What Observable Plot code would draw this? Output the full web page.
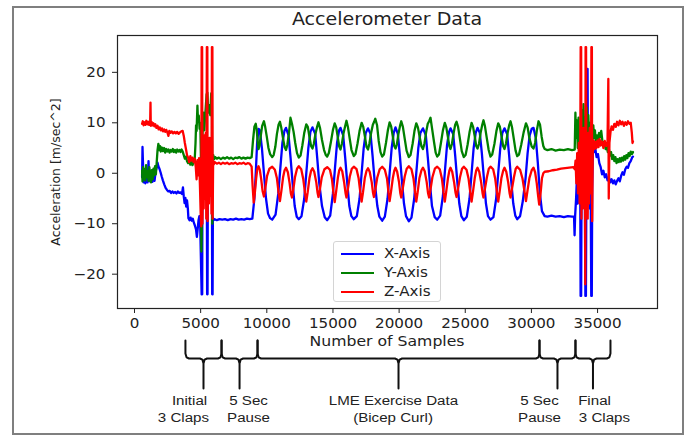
<!DOCTYPE html>
<html>
<head>
<meta charset="utf-8">
<script src="https://cdn.jsdelivr.net/npm/d3@7"></script>
<script src="https://cdn.jsdelivr.net/npm/@observablehq/plot@0.6"></script>
<style>
  html, body { margin: 0; padding: 0; background: #fff; }
  #fig { position: relative; width: 688px; height: 438px; overflow: hidden; font-family: "DejaVu Sans", sans-serif; color: #222; }
  #border { position: absolute; left: 12px; top: 6px; width: 672px; height: 429px; border: 2px solid #7f7f7f; box-sizing: border-box; }
  .abs { position: absolute; white-space: nowrap; line-height: 1; }
  #main, #brace { position: absolute; left: 0; }
  #main { top: 0; }
  #brace { top: 338px; }
  #legend { position: absolute; left: 333px; top: 241px; width: 108px; height: 61px; box-sizing: border-box; border: 1px solid #d4d4d4; border-radius: 3px; background: rgba(255,255,255,0.85); }
</style>
</head>
<body>
<div id="fig">
  <div id="border"></div>
</div>
<script>
// ---------- data ----------
const seriesNames = ["X-Axis", "Y-Axis", "Z-Axis"];
const seriesColors = ["#0000ff", "#008000", "#ff0000"];
const xTicks = [0, 5000, 10000, 15000, 20000, 25000, 30000, 35000];
const yTicks = [-20, -10, 0, 10, 20];

// X-Axis (blue): [sample, m/sec^2]
const xAxis = [
[574,-0.8],[605,5.2],[647,1.5],[688,-1.8],[750,-1.2],[822,-2],[905,-0.6],[987,-1.8],[1060,2.4],[1101,-0.8],[1184,-1.6],[1266,-0.7],[1349,-1.7],[1431,-0.9],[1514,-1.5],[1597,0.3],[1679,1.2],[1741,2.1],[1803,1.4],[1886,0.9],[1968,0.2],[2051,-0.6],[2144,-1.4],[2247,-2.2],[2350,-2.9],[2454,-3.3],[2557,-3.6],[2660,-3.5],[2763,-3.9],[2867,-3.6],[2970,-3.9],[3073,-3.7],[3176,-4],[3280,-3.6],[3383,-3.9],[3486,-3.8],[3589,-4.1],[3662,-2.8],[3724,-4.6],[3786,-5.9],[3848,-4.9],[3909,-6.6],[3971,-5.4],[4033,-7],[4075,-8.9],[4157,-9.3],[4240,-8.8],[4322,-9.4],[4405,-9],[4488,-9.8],[4570,-10.4],[4653,-11.2],[4715,-12.6],[4777,-11],[4839,-9.3],[4901,-8.5],[4963,-10],[5014,-16.3],[5076,-24],[5117,-24],[5138,6.8],[5210,5.8],[5293,6.5],[5376,5.6],[5458,6.9],[5489,-24],[5520,-24],[5551,6.6],[5634,5.9],[5716,6.7],[5799,6],[5851,6.5],[5871,-24],[5902,-24],[5923,-8.8],[5974,-9.3],[6067,-9.1],[6222,-9.3],[6429,-9.1],[6635,-9.2],[6842,-9.1],[7048,-9.3],[7255,-9.1],[7461,-9.2],[7668,-9],[7874,-9.2],[8081,-9.1],[8287,-9.2],[8494,-9],[8700,-9.1],[8907,-9],
[9062,-5],[9165,0],[9268,6],[9372,8.8],[9475,8.5],[9630,5],[9784,0],[9939,-5],[10094,-8],[10249,-8.9],[10408,-9.2],[10662,-8.2],[10869,-4],[11023,1],[11178,6],[11333,8.4],[11451,9],[11643,7.5],[11798,3],[11952,-2],[12108,-6.5],[12262,-8.6],[12418,-9.1],[12624,-8.5],[12830,-5],[12985,0],[13140,5],[13295,8.2],[13454,9.1],[13656,7.8],[13811,3],[13966,-2],[14172,-6.5],[14379,-8.7],[14565,-9.3],[14792,-8.4],[14999,-4],[15153,1],[15308,6],[15463,8.5],[15570,9],[15773,7.5],[15928,3],[16083,-2],[16238,-6.5],[16392,-8.5],[16575,-9.1],[16805,-8.5],[17012,-5],[17167,0],[17322,5],[17477,8],[17649,8.9],[17838,7.8],[17993,3.5],[18148,-1.5],[18354,-6.5],[18509,-8.6],[18722,-9.4],[18922,-8.6],[19129,-5],[19283,0],[19438,5],[19593,8],[19727,9.1],[19903,7.8],[20058,3.5],[20213,-1.5],[20368,-6],[20522,-8.5],[20733,-9.5],[20935,-8.8],[21142,-5],[21297,0],[21452,5],[21607,8],[21806,8.9],[22020,7.5],[22174,3],[22329,-2],[22484,-6.5],[22691,-8.7],[22880,-9.2],[23104,-8.4],[23310,-4.5],[23465,0.5],[23620,5.5],[23775,8.2],[23884,8.9],[24085,7.8],[24239,3.5],[24394,-1.5],[24549,-6],[24704,-8.5],[24890,-9.3],[25117,-8.6],[25324,-5],[25478,0],[25633,5],[25788,8],[25925,9],[26098,8],[26253,4],[26408,-1],[26563,-6],[26717,-8.5],[26908,-9.2],[27130,-8.7],[27337,-5],[27492,0],[27647,5],[27802,8],[27966,8.9],[28163,7.8],[28318,3.5],[28473,-1.5],[28628,-6],[28782,-8.4],[28926,-9.1],[29144,-8.5],[29350,-5.5],[29557,-1],[29712,4],[29867,7.5],[30021,8.8],[30158,9],[30331,7],[30486,2],[30641,-4],[30796,-7.5],[31002,-8.5],[31209,-8.6],[31519,-8.4],[31828,-8.6],[32138,-8.5],[32448,-8.7],[32758,-8.5],[33067,-8.6],[33222,-8.6],
[33263,-12.3],[33305,-8.4],[33377,-5],[33439,-1],[33501,-6],[33563,3],[33625,-3],[33687,1],[33718,-24.3],[33759,-24.3],[33790,-2],[33852,4],[33914,-6],[33976,5],[34038,-3],[34079,-24.3],[34120,-24.3],[34151,-4],[34203,20.7],[34244,20.7],[34286,-5],[34348,4],[34410,-7],[34471,2],[34523,-24.3],[34564,-24.3],[34595,-3],[34657,5.5],[34740,4.2],[34823,5],[34926,3.2],[35029,3.8],[35132,2],[35236,1.2],[35339,-0.2],[35442,0.5],[35545,-0.8],[35649,-0.2],[35752,-1.4],[35855,-0.8],[35958,-1.8],[36062,-1.2],[36165,-2],[36268,-1.4],[36371,-2.2],[36475,-1.5],[36578,-1],[36681,-1.6],[36784,-0.5],[36888,0.2],[36991,-0.3],[37094,0.8],[37197,1.3],[37301,1.1],[37404,2],[37507,2.4],[37610,3.1],[37675,3.3]
];

// Y-Axis (green)
const yAxis = [
[574,0.5],[605,-1.6],[647,1.2],[698,-1],[750,0.8],[812,-1.4],[874,1.6],[936,-0.8],[998,0.4],[1060,-1.5],[1122,1.2],[1184,-0.6],[1246,-1.8],[1308,0.6],[1370,-1.2],[1431,0.9],[1493,-0.4],[1555,1.4],[1617,-0.2],[1679,2.2],[1741,4.6],[1803,5.8],[1865,4.6],[1927,5.4],[1989,4.3],[2072,5.1],[2154,4.4],[2237,5],[2319,4.1],[2402,4.8],[2485,4.3],[2567,4.7],[2650,4.1],[2732,4.6],[2815,4.3],[2898,4.8],[2980,4.2],[3063,4.6],[3145,4.1],[3228,4.7],[3311,4.3],[3393,4.6],[3476,4.2],[3558,4.7],[3641,4.3],[3724,3.6],[3806,2.9],[3889,3.3],[3971,2.4],[4054,2],[4137,2.6],[4219,1.7],[4302,2.4],[4384,1.6],[4467,2.2],[4550,2.7],[4612,6],[4653,9.5],[4694,8.4],[4756,13.4],[4797,10.5],[4859,11.4],[4921,8.8],[4973,10],[5014,4],[5055,-15.5],[5097,-8],[5148,9],[5210,12],[5272,8.5],[5334,11],[5396,13.5],[5448,15.6],[5510,16],[5572,12],[5644,13.5],[5727,11.5],[5799,15.8],[5851,16],[5882,-10],[5913,2],[5954,3.6],[6016,2.8],[6099,3.2],[6222,2.9],[6377,3.1],[6532,2.8],[6687,3.1],[6842,2.9],[6997,3.2],[7151,2.9],[7306,3.1],[7461,2.8],[7616,3.1],[7771,3],[7926,3.2],[8081,2.9],[8236,3.1],[8391,2.9],[8546,3.1],[8700,3],[8855,3.2],
[8958,6.5],[9062,9.2],[9165,9.8],[9237,8.6],[9320,6],[9372,4.8],[9454,5.5],[9547,7.5],[9650,9.4],[9784,10.3],[9877,9.2],[10001,7.2],[10125,5],[10249,3.8],[10408,3.2],[10517,3.6],[10641,5.2],[10765,7.8],[10889,9.6],[10992,10.2],[11096,9],[11220,7],[11344,5.2],[11451,4.6],[11550,5.6],[11674,7.9],[11788,11],[11901,9.8],[12025,8.2],[12149,6],[12283,4],[12418,3.1],[12551,3.5],[12686,5.5],[12830,8],[12985,9.7],[13099,9.2],[13223,7.2],[13347,5.4],[13454,4.9],[13553,5.8],[13677,7.8],[13811,9.3],[13904,10.1],[14028,8.9],[14172,6.6],[14328,4.6],[14462,3.6],[14565,3.3],[14689,4],[14844,6.2],[14999,8.6],[15133,9.9],[15247,9.1],[15371,7],[15474,5.3],[15570,4.7],[15680,5.9],[15804,8],[15928,9.4],[16021,10.4],[16135,9.1],[16269,6.8],[16402,4.6],[16575,3.4],[16702,3.8],[16857,5.9],[17012,8.4],[17167,10],[17291,9.2],[17425,7.1],[17539,5.2],[17649,4.7],[17756,5.9],[17890,8.1],[18014,9.6],[18097,10.1],[18200,10.8],[18334,9.5],[18458,6.4],[18593,4.2],[18722,3.3],[18851,3.7],[19006,6],[19150,8.5],[19283,10.1],[19398,9.3],[19522,7.3],[19635,5.4],[19727,4.9],[19831,5.7],[19955,7.9],[20079,9.5],[20162,10.3],[20286,9.2],[20420,6.9],[20564,4.5],[20733,3.2],[20863,3.6],[21018,5.8],[21162,8.4],[21297,9.9],[21421,9.1],[21555,7.2],[21690,5.3],[21806,4.8],[21917,5.9],[22041,8.1],[22165,9.8],[22268,10.3],[22372,11],[22495,8.8],[22639,6.2],[22763,4.1],[22880,3.3],[23011,3.7],[23155,5.9],[23310,8.5],[23455,10],[23568,9.1],[23692,7.1],[23796,5.4],[23884,4.8],[23992,5.8],[24116,7.9],[24239,9.6],[24343,10.2],[24456,9.2],[24591,6.9],[24735,4.4],[24890,3.2],[25024,3.6],[25179,5.7],[25334,8.3],[25478,10],[25592,9.2],[25716,7.3],[25830,5.4],[25925,4.9],[26036,5.8],[26160,8],[26284,9.6],[26377,10.5],[26490,9.3],[26625,7],[26769,4.6],[26908,3.3],[27037,3.7],[27203,5.8],[27357,8.4],[27492,9.9],[27616,9.2],[27750,7.2],[27864,5.4],[27966,4.8],[28080,5.9],[28204,8],[28328,9.6],[28421,10.3],[28535,9.1],[28669,6.8],[28803,4.5],[28926,3.4],[29061,3.7],[29226,5.6],[29412,8.1],[29588,9.9],[29712,9.1],[29846,7],[30021,5.3],[30158,4.9],[30280,6],[30404,8.4],[30538,10.3],[30652,9.6],[30776,7.2],[30899,5.4],[31002,4.8],[31209,4.6],[31519,4.8],[31828,4.5],[32138,4.7],[32448,4.6],[32758,4.8],[33067,4.6],[33274,4.7],
[33325,12],[33377,7],[33439,10.5],[33501,5],[33563,11],[33625,4],[33687,-5.6],[33749,8],[33811,12.5],[33873,6],[33935,13.7],[33997,7],[34059,11],[34120,5],[34182,13],[34244,8],[34306,11.5],[34368,6],[34430,10],[34492,4],[34554,9],[34616,6.5],[34678,9.5],[34740,7],[34802,8.5],[34874,6],[34947,7.5],[35029,6],[35112,8],[35194,7.2],[35277,8.4],[35360,6.5],[35442,5.4],[35525,6.2],[35607,4.8],[35690,5.5],[35773,4.2],[35855,4.8],[35938,3.5],[36021,4.2],[36103,2.8],[36186,3.6],[36268,2.4],[36351,3.2],[36433,2],[36516,2.8],[36599,2.2],[36681,3],[36764,2.3],[36847,3.1],[36929,2.5],[37012,3.4],[37094,2.7],[37177,3.6],[37259,3],[37342,4],[37424,3.4],[37507,4.3],[37590,3.8],[37675,4.2]
];

// Z-Axis (red)
const zAxis = [
[574,9.8],[626,10.3],[688,9.5],[750,10.1],[822,9.6],[895,10.4],[967,9.7],[1039,10.2],[1111,9.6],[1184,10.1],[1209,14],[1230,9.4],[1287,10.2],[1359,9.5],[1431,9.9],[1504,9.3],[1576,9.7],[1659,9],[1741,9.4],[1824,8.7],[1906,9.1],[1989,8.5],[2072,8.9],[2154,8.3],[2237,8.7],[2319,8.2],[2402,8.6],[2485,8.1],[2567,7.4],[2629,8.4],[2712,8],[2815,8.3],[2918,7.9],[3022,8.2],[3125,7.9],[3228,8.2],[3331,7.8],[3435,8.1],[3538,8.3],[3641,8.4],[3724,7.4],[3806,6],[3889,4.8],[3971,3.6],[4054,3.1],[4137,2.2],[4219,3.4],[4302,2.5],[4384,3.1],[4467,2.2],[4550,2.9],[4632,1.2],[4694,-1.2],[4756,2.6],[4818,-0.4],[4880,3],[4942,-2],[5004,-8],[5045,-10.5],[5076,25],[5112,25],[5133,-10],[5180,5],[5231,-7],[5283,7.5],[5334,-5],[5386,8],[5427,-9],[5469,25],[5505,25],[5526,-9.5],[5572,6],[5624,-6],[5675,7],[5727,-4.5],[5778,6.5],[5820,-8],[5851,25],[5887,25],[5907,-9],[5943,2.5],[5995,1.8],[6067,2.2],[6222,1.9],[6377,2.1],[6532,1.8],[6687,2.1],[6842,1.9],[6997,2.1],[7151,1.8],[7306,2],[7461,1.9],[7616,2.1],[7771,1.8],[7926,2],[8081,1.9],[8236,2.1],[8391,1.8],[8546,2],[8700,1.9],[8855,1.3],
[8927,-2.5],[9010,-5.8],[9093,-4],[9196,-1],[9278,0.8],[9372,1.4],[9475,0.6],[9578,-1.2],[9681,-3.5],[9784,-4.6],[9887,-3],[10022,-0.5],[10197,0.9],[10408,1.3],[10610,0.7],[10765,-1],[10889,-3.8],[10992,-5.5],[11096,-3.6],[11230,-0.8],[11344,0.6],[11451,1.1],[11592,0.2],[11726,-2],[11819,-4],[11901,-4.8],[12004,-3.2],[12128,-0.8],[12283,0.9],[12418,1.4],[12603,0.8],[12758,-1.2],[12892,-4],[12985,-5.6],[13088,-3.8],[13223,-1],[13347,0.5],[13454,1],[13585,0.3],[13740,-1.8],[13833,-3.8],[13904,-4.7],[14007,-3.3],[14152,-0.8],[14359,0.8],[14565,1.2],[14772,0.7],[14927,-1.2],[15041,-4],[15133,-5.7],[15237,-3.7],[15371,-0.9],[15474,0.6],[15570,1.1],[15701,0.4],[15845,-1.8],[15949,-3.9],[16021,-4.8],[16124,-3.2],[16269,-0.7],[16424,0.9],[16575,1.3],[16785,0.8],[16940,-1],[17074,-3.9],[17167,-5.6],[17270,-3.8],[17404,-1],[17539,0.5],[17649,1],[17776,0.3],[17932,-1.8],[18025,-3.8],[18097,-4.7],[18200,-3.3],[18345,-0.9],[18531,0.8],[18722,1.3],[18922,0.7],[19088,-1.1],[19202,-3.9],[19283,-5.5],[19387,-3.7],[19522,-1],[19635,0.5],[19727,1.1],[19852,0.3],[19997,-1.8],[20089,-3.9],[20162,-4.8],[20265,-3.2],[20420,-0.7],[20574,0.9],[20733,1.4],[20935,0.8],[21090,-1.1],[21214,-3.9],[21297,-5.6],[21400,-3.8],[21534,-1],[21690,0.6],[21806,1.1],[21937,0.4],[22082,-1.7],[22185,-3.9],[22268,-4.8],[22372,-3.2],[22516,-0.8],[22701,0.9],[22880,1.3],[23073,0.8],[23238,-1.1],[23362,-3.9],[23455,-5.6],[23558,-3.7],[23692,-1],[23796,0.5],[23884,1.1],[24013,0.3],[24158,-1.8],[24261,-3.8],[24343,-4.7],[24447,-3.2],[24602,-0.8],[24756,0.9],[24890,1.3],[25096,0.7],[25251,-1.1],[25385,-3.9],[25478,-5.6],[25582,-3.7],[25716,-1],[25830,0.6],[25925,1.1],[26057,0.3],[26202,-1.8],[26305,-3.9],[26377,-4.8],[26480,-3.2],[26635,-0.8],[26779,0.9],[26908,1.3],[27110,0.8],[27265,-1.1],[27399,-3.9],[27492,-5.6],[27595,-3.7],[27729,-1],[27864,0.5],[27966,1.1],[28101,0.3],[28245,-1.8],[28348,-3.9],[28421,-4.8],[28524,-3.2],[28679,-0.8],[28814,0.9],[28926,1.3],[29144,0.7],[29330,-1.1],[29495,-3.9],[29588,-5.5],[29691,-3.7],[29846,-1],[30021,0.6],[30158,1.1],[30280,0.2],[30404,-2],[30507,-4.5],[30590,-6.2],[30693,-4],[30796,-1],[30899,0],[31002,0.3],[31312,0.4],[31622,0.6],[31932,0.7],[32242,0.9],[32552,1],[32861,1.1],[33171,1.2],[33274,0.8],
[33336,2.5],[33398,-2],[33460,4],[33522,-4],[33584,6],[33646,-6],[33697,8],[33723,25],[33759,25],[33780,-9],[33831,6],[33883,-7],[33935,9],[33986,-5],[34038,7],[34069,-22],[34095,25],[34131,25],[34151,-8],[34203,7],[34255,-9],[34306,8],[34358,-6],[34410,9],[34462,-4],[34513,6],[34534,25],[34570,25],[34591,-9.5],[34637,4],[34699,6.5],[34761,4.8],[34823,6.2],[34906,5],[34988,6.5],[35071,5.2],[35153,6.8],[35236,5.5],[35339,6.3],[35442,5],[35545,6.4],[35649,5.4],[35752,6.2],[35814,18.7],[35845,-5],[35897,6],[35979,8.2],[36062,9.3],[36165,8.6],[36268,9.8],[36371,9.2],[36475,10.2],[36578,9.5],[36681,10.4],[36784,9.7],[36888,10.2],[36991,9.4],[37094,10.1],[37197,9.6],[37301,10.3],[37404,9.8],[37507,10],[37590,8],[37641,6],[37675,6.3]
];

// Annotation below the axis: brace boundaries (sample index) and labels
const braceBounds = [3850, 6580, 9300, 30610, 33330, 35975];
const braceLabels = ["Initial\n3 Claps", "5 Sec\nPause", "LME Exercise Data\n(Bicep Curl)", "5 Sec\nPause", "Final\n3 Claps"];
const labelLine1At = [4160, 8620, 19570, 30610, 34770];
const labelLine2At = [3700, 8620, 19540, 30610, 35520];

// ---------- layout ----------
const W = 688;
const frameL = 117, frameR = 657, frameT = 35, frameB = 308;
const xDomain = [-1285, 39530];
const yDomain = [-26.8, 27.3];
const stretch = 1.12;
const minus = d => d < 0 ? "\u2212" + Math.abs(d) : String(d);

const fig = document.getElementById("fig");
const series = [xAxis, yAxis, zAxis];

const main = Plot.plot({
  width: W, height: 340,
  marginLeft: frameL, marginRight: W - frameR, marginTop: frameT, marginBottom: 340 - frameB,
  style: {fontFamily: "DejaVu Sans", fontSize: "13.5px", color: "#222", background: "transparent", overflow: "visible"},
  x: {domain: xDomain, ticks: xTicks, tickFormat: d => String(d), tickSize: 5, tickPadding: 5, label: null},
  y: {domain: yDomain, ticks: yTicks, tickFormat: minus, tickSize: 5, tickPadding: 7, label: null},
  marks: [
    ...series.map((s, i) => Plot.line(s, {x: d => d[0], y: d => d[1], stroke: seriesColors[i], strokeWidth: 2.3, strokeLinejoin: "round"})),
    Plot.frame({stroke: "#222", strokeWidth: 1.2})
  ]
});
main.id = "main";
fig.appendChild(main);

// braces
const L = {top: 2, bend: 15, bar: 20, cusp: 25, tip: 50, line1: 62, line2: 79};
const r = 270;
const bracePts = [];
for (let k = 0; k < braceBounds.length - 1; k++) {
  const a = braceBounds[k], b = braceBounds[k + 1], m = (a + b) / 2;
  const pts = [[a, L.top], [a, L.bend], [a + r * 0.3, L.bar - 1.2], [a + r, L.bar], [m - r, L.bar], [m - r * 0.3, L.bar + 1.2], [m, L.cusp], [m, L.tip],
               [m, L.cusp], [m + r * 0.3, L.bar + 1.2], [m + r, L.bar], [b - r, L.bar], [b - r * 0.3, L.bar - 1.2], [b, L.bend], [b, L.top]];
  pts.forEach(p => bracePts.push({k, x: p[0], y: p[1]}));
}
const labelRows = [];
braceLabels.forEach((t, i) => {
  const [l1, l2] = t.split("\n");
  labelRows.push({x: labelLine1At[i], y: L.line1, t: l1});
  labelRows.push({x: labelLine2At[i], y: L.line2, t: l2});
});
const brace = Plot.plot({
  width: W, height: 100,
  marginLeft: frameL, marginRight: W - frameR, marginTop: 0, marginBottom: 0,
  style: {background: "transparent", overflow: "visible"},
  x: {domain: xDomain, axis: null},
  y: {domain: [0, 100], range: [0, 100], axis: null},
  marks: [
    Plot.line(bracePts, {x: "x", y: "y", z: "k", stroke: "#111", strokeWidth: 2, strokeLinejoin: "round"}),
    Plot.text(labelRows, {x: "x", y: "y", text: "t", fontFamily: "Liberation Sans", fontSize: 13.5, fill: "#222", textAnchor: "middle", lineAnchor: "middle"})
  ]
});
brace.id = "brace";
fig.appendChild(brace);

// horizontal stretch of texts to match the reference
for (const svg of [main, brace]) {
  svg.querySelectorAll("text").forEach(el => {
    const t = el.getAttribute("transform") || "";
    el.setAttribute("transform", (t + ` scale(${stretch},1)`).trim());
  });
}

// title and axis labels
function addText(txt, x, y, size, opts = {}) {
  const d = document.createElement("div");
  d.className = "abs";
  d.textContent = txt;
  d.style.left = x + "px";
  d.style.top = y + "px";
  d.style.fontSize = size + "px";
  d.style.transform = opts.rotate ? `translate(-50%,-50%) rotate(-90deg)` : `translate(-50%,-50%) scaleX(${stretch})`;
  fig.appendChild(d);
  return d;
}
addText("Accelerometer Data", (frameL + frameR) / 2, 19, 17);
addText("Number of Samples", (frameL + frameR) / 2, 341, 14);
addText("Acceleration [m/sec^2]", 56, (frameT + frameB) / 2, 12.5, {rotate: true});

// legend
const leg = document.createElement("div");
leg.id = "legend";
fig.appendChild(leg);
seriesNames.forEach((n, i) => {
  const cy = 11.5 + i * 19;
  const sw = document.createElement("div");
  sw.style.cssText = `position:absolute;left:7px;top:${cy - 1}px;width:33px;height:2px;background:${seriesColors[i]}`;
  leg.appendChild(sw);
  const tx = document.createElement("div");
  tx.className = "abs";
  tx.textContent = n;
  tx.style.cssText += `left:50px;top:${cy}px;font-size:13.5px;transform:translateY(-50%) scaleX(${stretch});transform-origin:left center;`;
  leg.appendChild(tx);
});
</script>
</body>
</html>
